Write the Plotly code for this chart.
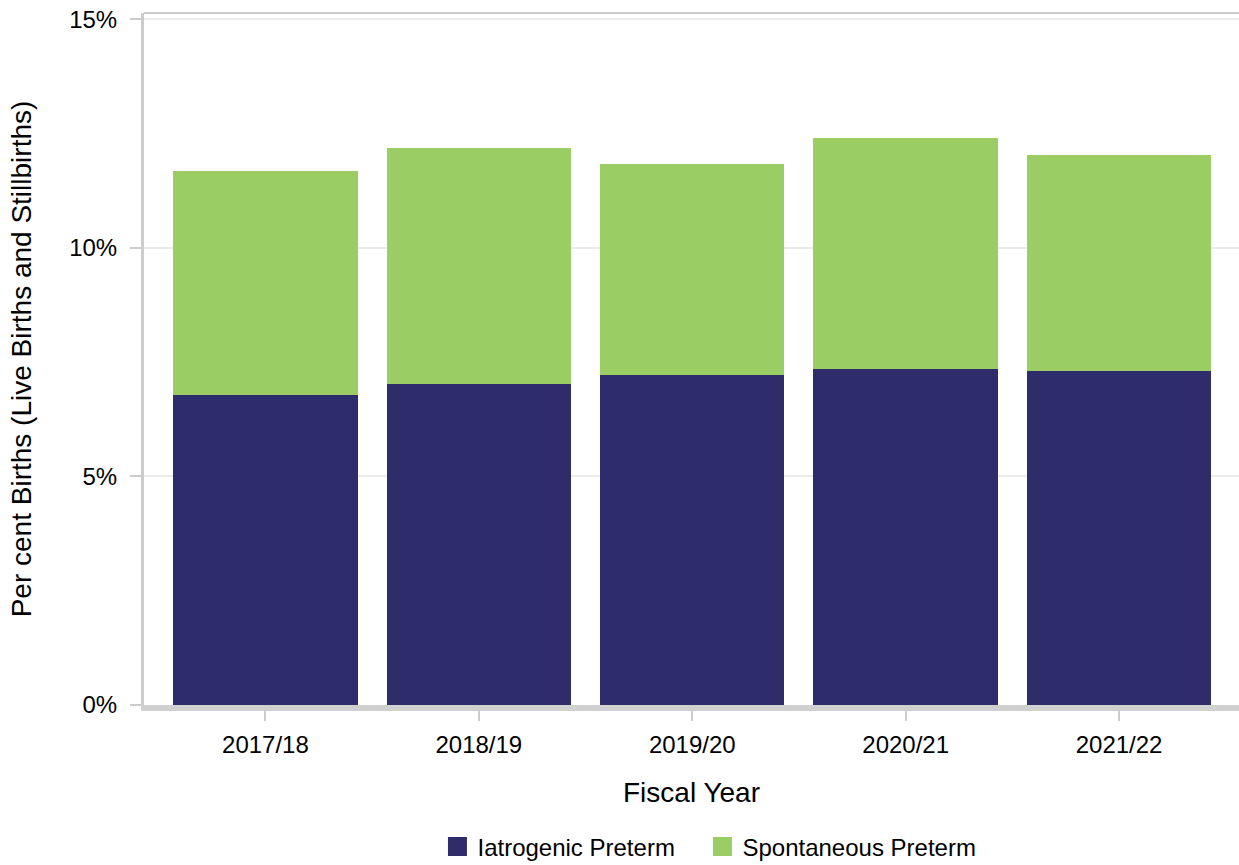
import plotly.graph_objects as go

# Preterm births by fiscal year, per cent of all births (live births and stillbirths)
fiscal_years = ["2017/18", "2018/19", "2019/20", "2020/21", "2021/22"]
iatrogenic = [6.78, 7.02, 7.23, 7.36, 7.31]
spontaneous = [4.90, 5.17, 4.61, 5.04, 4.72]
y_ticks = [0, 5, 10, 15]
y_tick_labels = ["0%", "5%", "10%", "15%"]

NAVY = "#2e2c6a"
GREEN = "#9bcd65"
AXIS_GREY = "#cccccc"
GRID_GREY = "#ebebeb"
FONT = "Liberation Sans, Arial, sans-serif"

fig = go.Figure()

fig.add_trace(go.Bar(
    x=fiscal_years, y=iatrogenic, name="Iatrogenic Preterm",
    marker=dict(color=NAVY, line=dict(width=0)), showlegend=False,
))
fig.add_trace(go.Bar(
    x=fiscal_years, y=spontaneous, name="Spontaneous Preterm",
    marker=dict(color=GREEN, line=dict(width=0)), showlegend=False,
))

# legend keys drawn as larger squares than the default bar swatch,
# each in its own legend box so the spacing can be set exactly
legend_items = [("Iatrogenic Preterm", NAVY, "legend"),
                ("Spontaneous Preterm", GREEN, "legend2")]
for name, colour, legend_id in legend_items:
    fig.add_trace(go.Scatter(
        x=[None], y=[None], mode="markers", name=name, legend=legend_id,
        marker=dict(symbol="square", size=16, color=colour,
                    line=dict(color=colour, width=3)),
    ))

legend_style = dict(
    orientation="h", xanchor="left", y=-0.205, yanchor="middle",
    font=dict(size=24), bgcolor="rgba(0,0,0,0)",
)

fig.update_layout(
    width=1239, height=865,
    margin=dict(l=144, r=0, t=13, b=160, autoexpand=False),
    paper_bgcolor="white", plot_bgcolor="white",
    barmode="stack", bargap=0.136,
    font=dict(family=FONT, size=24, color="black"),
    legend=dict(x=0.268, **legend_style),
    legend2=dict(x=0.510, **legend_style),
    xaxis=dict(
        title=dict(text="Fiscal Year", font=dict(size=28), standoff=28),
        range=[-0.569, 4.562], automargin=False,
        showline=True, linecolor="#d0d0d0", linewidth=6,
        ticks="outside", ticklen=10, tickwidth=2, tickcolor=AXIS_GREY,
        ticklabelstandoff=3,
        showgrid=False, zeroline=False,
        tickfont=dict(size=24),
    ),
    yaxis=dict(
        title=dict(text="Per cent Births (Live Births and Stillbirths)",
                   font=dict(size=28), standoff=30),
        range=[0, 15.14], automargin=False,
        tickmode="array", tickvals=y_ticks, ticktext=y_tick_labels,
        showline=True, linecolor=AXIS_GREY, linewidth=3,
        ticks="outside", ticklen=11, tickwidth=2, tickcolor=AXIS_GREY,
        ticklabelstandoff=8,
        showgrid=True, gridcolor=GRID_GREY, gridwidth=2,
        zeroline=False,
        tickfont=dict(size=24),
    ),
    shapes=[dict(
        type="line", xref="paper", yref="paper", x0=0, x1=1, y0=1, y1=1,
        line=dict(color=AXIS_GREY, width=2),
    )],
)

fig.write_html("out.html")
